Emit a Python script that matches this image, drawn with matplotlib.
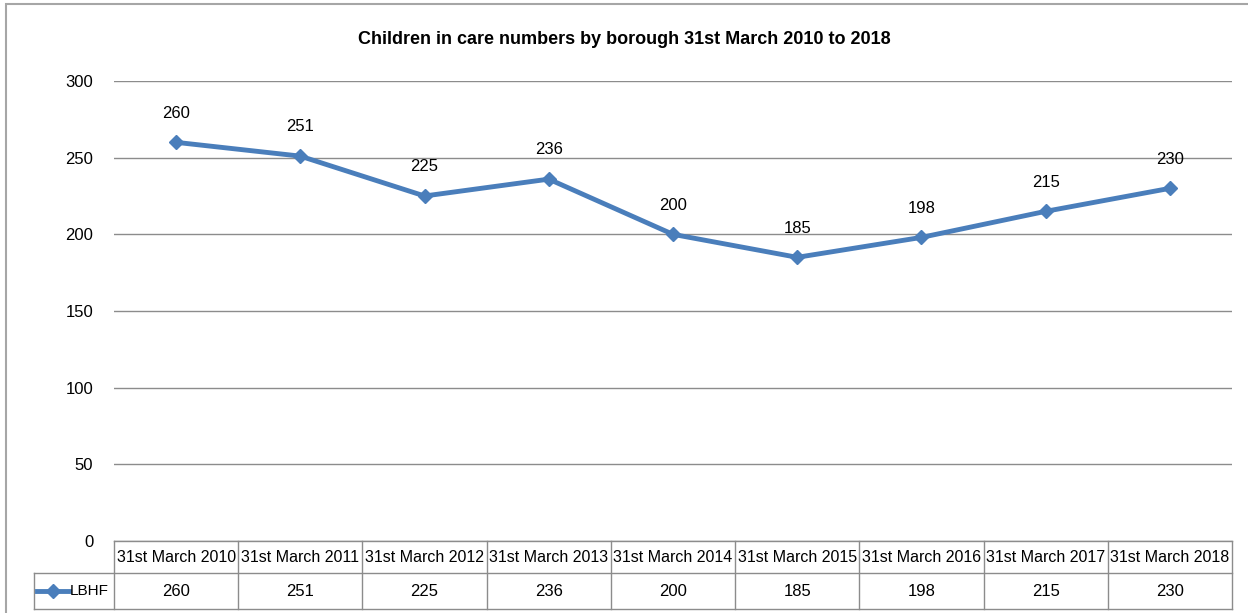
import numpy as np
import matplotlib
matplotlib.use("Agg")
import matplotlib.pyplot as plt
import matplotlib.transforms as mtransforms
from matplotlib.patches import Rectangle

plt.rcParams['font.family'] = ['Liberation Sans', 'DejaVu Sans']

categories = ["31st March 2010", "31st March 2011", "31st March 2012", "31st March 2013",
              "31st March 2014", "31st March 2015", "31st March 2016", "31st March 2017",
              "31st March 2018"]
lbhf = [260, 251, 225, 236, 200, 185, 198, 215, 230]
series_name = "LBHF"
y_ticks = [0, 50, 100, 150, 200, 250, 300]
title = "Children in care numbers by borough 31st March 2010 to 2018"

line_color = "#4A7EBB"
grid_color = "#8C8C8C"
table_color = "#8C8C8C"
fs = 12

fig = plt.figure(figsize=(12.48, 6.13), dpi=100)
# outer chart frame (only top and left edges visible in the crop)
fig.patches.append(Rectangle((6 / 1248, -0.05), 1.1, 1 - 4 / 613 + 0.05, transform=fig.transFigure,
                             fill=False, edgecolor="#A6A6A6", linewidth=1.5))

ax = fig.add_axes([114 / 1248, 1 - 541 / 613, 1118 / 1248, 460 / 613])
x = np.arange(len(categories))
ax.plot(x, lbhf, color=line_color, linewidth=3.5, marker="D", markersize=7, zorder=3)
for xi, v in zip(x, lbhf):
    ax.annotate(str(v), (xi, v), xytext=(0, 21), textcoords="offset points",
                ha="center", va="center", fontsize=fs)

ax.set_xlim(-0.5, len(categories) - 0.5)
ax.set_ylim(0, 300)
ax.set_yticks(y_ticks)
ax.set_xticks([])
ax.tick_params(axis="y", length=0, pad=15, labelsize=fs)
ax.grid(axis="y", color=grid_color, linewidth=1)
ax.set_axisbelow(True)
for s in ax.spines.values():
    s.set_visible(False)

fig.text(0.5, 1 - 40 / 613, title, ha="center", va="center", fontsize=13, fontweight="bold")

# data table under the plot: x in data units, y in axes units
tr = mtransforms.blended_transform_factory(ax.transData, ax.transAxes)
col_px = 1118 / len(categories)
h_head = 32 / 460
h_row = 36 / 460
x_left = -0.5
x_right = len(categories) - 0.5
x_lab = x_left - 80 / col_px
y_top = 0
y_mid = -h_head
y_bot = -h_head - h_row
kw = dict(transform=tr, color=table_color, linewidth=1, clip_on=False)
ax.plot([x_left, x_right], [y_top, y_top], **kw)
ax.plot([x_lab, x_right], [y_mid, y_mid], **kw)
ax.plot([x_lab, x_right], [y_bot, y_bot], **kw)
for b in np.arange(len(categories) + 1) - 0.5:
    ax.plot([b, b], [y_top, y_bot], **kw)
ax.plot([x_lab, x_lab], [y_mid, y_bot], **kw)
for xi, cat, v in zip(x, categories, lbhf):
    ax.text(xi, (y_top + y_mid) / 2, cat, transform=tr, ha="center", va="center",
            fontsize=11.5, clip_on=False)
    ax.text(xi, (y_mid + y_bot) / 2, str(v), transform=tr, ha="center", va="center",
            fontsize=fs, clip_on=False)
y_r = (y_mid + y_bot) / 2
ax.text(x_left - 5 / col_px, y_r, series_name, transform=tr, ha="right", va="center",
        fontsize=11, clip_on=False)
# legend key
ax.plot([x_left - 77 / col_px, x_left - 45 / col_px], [y_r, y_r], transform=tr,
        color=line_color, linewidth=3.5, clip_on=False)
ax.plot([x_left - 61 / col_px], [y_r], transform=tr, color=line_color,
        marker="D", markersize=7, clip_on=False)

fig.savefig("out.png", dpi=100)
